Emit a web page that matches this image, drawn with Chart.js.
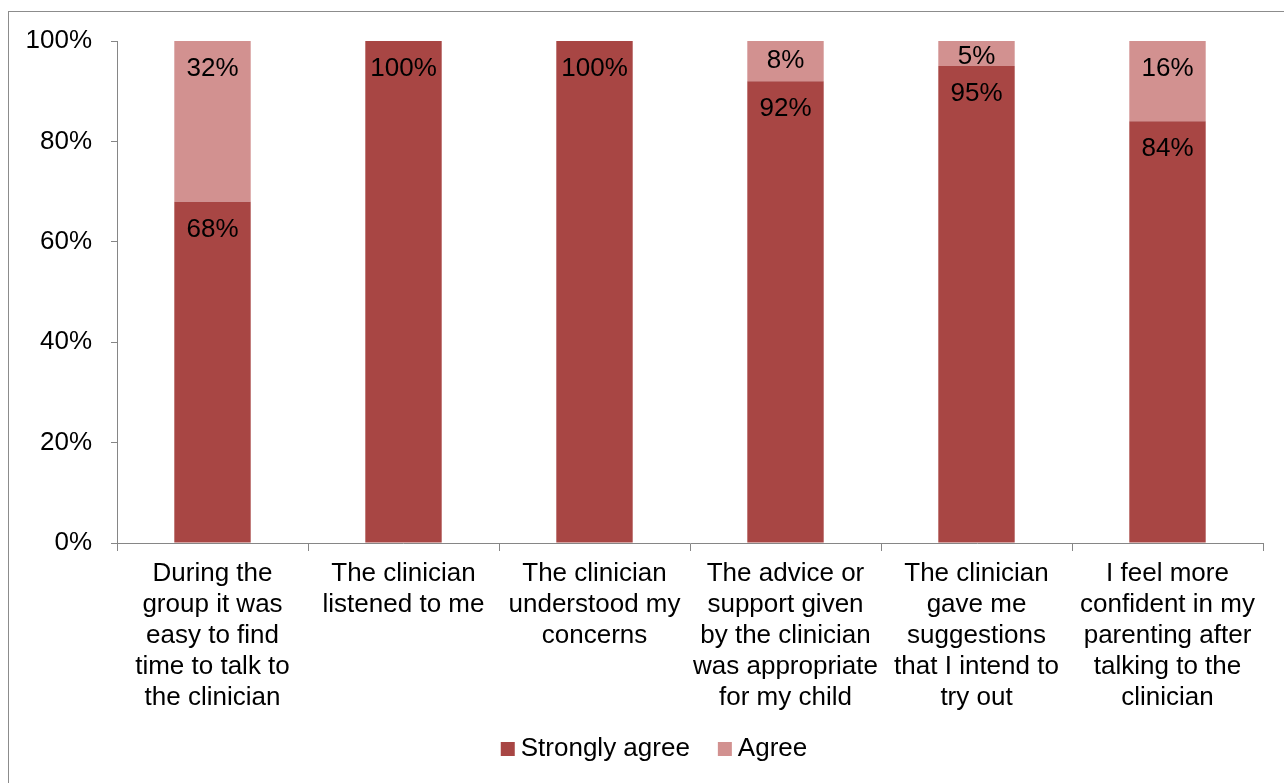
<!DOCTYPE html>
<html>
<head>
<meta charset="utf-8">
<script src="https://cdn.jsdelivr.net/npm/chart.js@4.4.1/dist/chart.umd.min.js"></script>
<style>
  body { margin: 0; background: #fff; }
  #wrap { position: relative; width: 1284px; height: 783px; overflow: hidden; }
  #marco { position: absolute; left: 8px; top: 11px; width: 1320px; height: 820px; border: 1px solid #8c8c8c; }
  #grafico { position: absolute; left: 0; top: 0; }
</style>
</head>
<body>
<div id="wrap">
  <div id="marco"></div>
  <canvas id="grafico" width="1284" height="783"></canvas>
</div>
<script>
// Datos del gráfico
const categorias = [
  ['During the', 'group it was', 'easy to find', 'time to talk to', 'the clinician'],
  ['The clinician', 'listened to me'],
  ['The clinician', 'understood my', 'concerns'],
  ['The advice or', 'support given', 'by the clinician', 'was appropriate', 'for my child'],
  ['The clinician', 'gave me', 'suggestions', 'that I intend to', 'try out'],
  ['I feel more', 'confident in my', 'parenting after', 'talking to the', 'clinician']
];
const muyDeAcuerdo = [68, 100, 100, 92, 95, 84];
const deAcuerdo = [32, 0, 0, 8, 5, 16];
const ticksY = [0, 20, 40, 60, 80, 100];

const fuente = { family: 'Arial, "Liberation Sans", sans-serif', size: 26 };
const fuenteCss = '26px Arial, "Liberation Sans", sans-serif';

// Etiquetas dentro de cada barra, cerca del borde superior
const etiquetas = {
  id: 'etiquetas',
  afterDatasetsDraw(chart) {
    const ctx = chart.ctx;
    ctx.save();
    ctx.font = fuenteCss;
    ctx.fillStyle = '#000';
    ctx.textAlign = 'center';
    ctx.textBaseline = 'middle';
    chart.data.datasets.forEach((ds, i) => {
      const meta = chart.getDatasetMeta(i);
      meta.data.forEach((bar, j) => {
        const v = ds.data[j];
        if (!v) return;
        const alto = bar.base - bar.y;
        const off = Math.min(28, Math.max(alto / 2, 16));
        ctx.fillText(v + '%', bar.x, bar.y + off);
      });
    });
    ctx.restore();
  }
};

// Leyenda abajo, estilo Excel (cuadrito + texto pegado)
const leyenda = {
  id: 'leyenda',
  afterDraw(chart) {
    const ctx = chart.ctx;
    ctx.save();
    ctx.font = fuenteCss;
    ctx.textBaseline = 'middle';
    ctx.textAlign = 'left';
    const items = chart.data.datasets.map(ds => ({
      texto: ds.label, color: ds.backgroundColor, ancho: ctx.measureText(ds.label).width
    }));
    const total = items.reduce((s, it) => s + 14 + 6 + it.ancho, 0) + 28 * (items.length - 1);
    let x = 654 - total / 2;
    const y = 749;
    items.forEach(it => {
      ctx.fillStyle = it.color;
      ctx.fillRect(x, y - 7, 14, 14);
      ctx.fillStyle = '#000';
      ctx.fillText(it.texto, x + 20, y);
      x += 14 + 6 + it.ancho + 28;
    });
    ctx.restore();
  }
};

const ctx = document.getElementById('grafico').getContext('2d');
new Chart(ctx, {
  type: 'bar',
  data: {
    labels: categorias,
    datasets: [
      {
        label: 'Strongly agree',
        data: muyDeAcuerdo,
        backgroundColor: '#a84644',
        barPercentage: 0.4,
        categoryPercentage: 1.0
      },
      {
        label: 'Agree',
        data: deAcuerdo,
        backgroundColor: '#d29190',
        barPercentage: 0.4,
        categoryPercentage: 1.0
      }
    ]
  },
  options: {
    responsive: false,
    animation: false,
    layout: { padding: { left: 0, top: 41, right: 21, bottom: 55 } },
    plugins: {
      tooltip: { enabled: false },
      legend: { display: false }
    },
    scales: {
      x: {
        stacked: true,
        grid: { drawOnChartArea: false, tickLength: 8, color: '#868686' },
        border: { color: '#868686' },
        ticks: {
          color: '#000',
          font: { ...fuente, lineHeight: 31 / 26 },
          padding: 7,
          maxRotation: 0,
          autoSkip: false
        },
        afterFit(scale) { scale.height = 185; }
      },
      y: {
        stacked: true,
        min: 0,
        max: 100,
        grid: { drawOnChartArea: false, tickLength: 6, color: '#868686' },
        border: { color: '#868686' },
        afterBuildTicks(scale) { scale.ticks = ticksY.map(v => ({ value: v })); },
        ticks: {
          color: '#000',
          font: fuente,
          padding: 19,
          callback: v => v + '%'
        },
        afterFit(scale) { scale.width = 117; }
      }
    }
  },
  plugins: [etiquetas, leyenda]
});
</script>
</body>
</html>
